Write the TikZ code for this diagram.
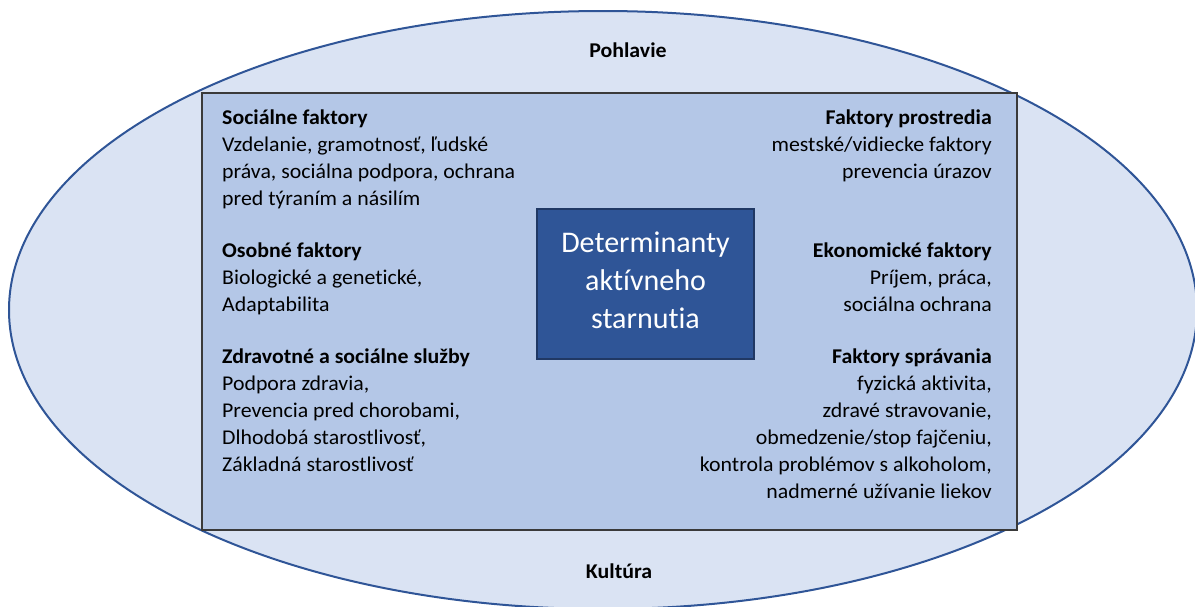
\documentclass[tikz,border=0pt]{standalone}
\usepackage{fontspec}
\setmainfont{Carlito}[Ligatures={NoCommon,NoContextual}, FakeStretch=1.04]
\newfontfamily\corefont{Carlito}[Ligatures={NoCommon,NoContextual}]
\definecolor{ellfill}{HTML}{DAE3F3}
\definecolor{ellline}{HTML}{2F5597}
\definecolor{rectfill}{HTML}{B4C7E7}
\definecolor{rectline}{HTML}{3A3A3A}
\definecolor{corefill}{HTML}{2F5597}
\definecolor{coreline}{HTML}{203864}
\tikzset{
  bodytext/.style={inner sep=0pt, font=\fontsize{21}{27}\selectfont, text=black},
  lefttext/.style={bodytext, anchor=north west, align=left},
  righttext/.style={bodytext, anchor=north east, align=right},
  outerlabel/.style={inner sep=0pt, font=\fontsize{21}{27}\selectfont\bfseries, text=black},
}
\begin{document}
\begin{tikzpicture}[x=1pt,y=-1pt]
\useasboundingbox (0,0) rectangle (1195,606);
\begin{scope}
\clip (0,0) rectangle (1195,606);
\draw[fill=ellfill, draw=ellline, line width=2pt] (603,310) ellipse [x radius=594, y radius=299];
\end{scope}
\node[draw=rectline, fill=rectfill, line width=1.6pt, minimum width=815pt, minimum height=437pt, inner sep=0pt] (frame) at (609.5,311.5) {};
\node[draw=coreline, fill=corefill, line width=1.2pt, minimum width=217pt, minimum height=150pt, inner sep=0pt] (core) at (645.5,284) {};
\node[inner sep=0pt, text=white, align=center, font=\corefont\fontsize{30}{38}\selectfont] (coretext) at ([yshift=4pt]core.center) {Determinanty\\aktívneho\\starnutia};
\node[outerlabel] (pohlavie) at (628,50) {Pohlavie};
\node[outerlabel] (kultura) at (619,571) {Kultúra};
% left blocks
\node[lefttext] (social) at (222,105) {\strut\textbf{Sociálne faktory}\\Vzdelanie, gramotnosť, ľudské\\práva, sociálna podpora, ochrana\\pred týraním a násilím};
\node[lefttext] (personal) at (222,238) {\strut\textbf{Osobné faktory}\\Biologické a genetické,\\Adaptabilita};
\node[lefttext] (health) at (222,344) {\strut\textbf{Zdravotné a sociálne služby}\\Podpora zdravia,\\Prevencia pred chorobami,\\Dlhodobá starostlivosť,\\Základná starostlivosť};
% right blocks
\node[righttext] (environment) at (992,105) {\strut\textbf{Faktory prostredia}\\mestské/vidiecke faktory\\prevencia úrazov};
\node[righttext] (economic) at (992,238) {\strut\textbf{Ekonomické faktory}\\Príjem, práca,\\sociálna ochrana};
\node[righttext] (behaviour) at (992,344) {\strut\textbf{Faktory správania}\\fyzická aktivita,\\zdravé stravovanie,\\obmedzenie/stop fajčeniu,\\kontrola problémov s alkoholom,\\nadmerné užívanie liekov};
\end{tikzpicture}
\end{document}
